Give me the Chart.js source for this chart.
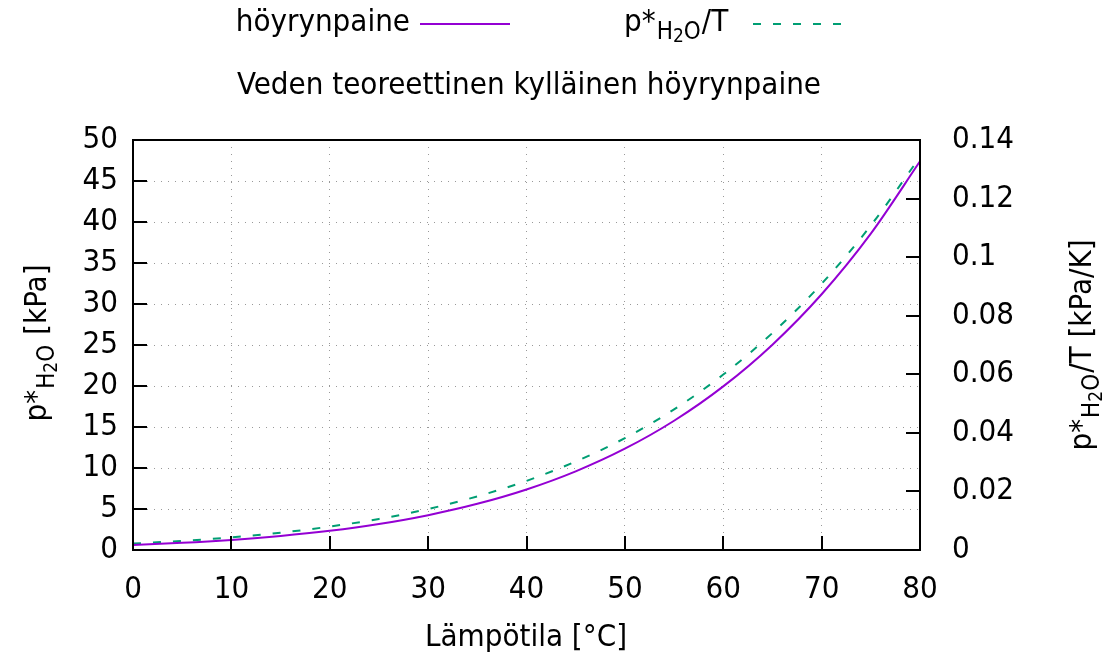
<!DOCTYPE html>
<html>
<head>
<meta charset="utf-8">
<script src="https://cdn.jsdelivr.net/npm/chart.js@4/dist/chart.umd.min.js"></script>
<style>
  html, body { margin: 0; padding: 0; background: #fff; }
  #wrap { width: 1106px; height: 662px; }
</style>
</head>
<body>
<div id="wrap"><canvas id="myChart"></canvas></div>
<script>
// lämpötila [°C]
var temps = [0, 5, 10, 15, 20, 25, 30, 35, 40, 45, 50, 55, 60, 65, 70, 75, 80];
// höyrynpaine [kPa]
var pressure = [0.61, 0.87, 1.23, 1.71, 2.34, 3.17, 4.25, 5.63, 7.38, 9.59, 12.35, 15.76, 19.95, 25.04, 31.19, 38.58, 47.4];
// p*/T [kPa/K]
var pressureT = [0.0022, 0.0031, 0.0043, 0.0059, 0.0080, 0.0106, 0.0140, 0.0183, 0.0236, 0.0302, 0.0382, 0.0480, 0.0599, 0.0741, 0.0909, 0.1108, 0.1342];

var FONT = "'DejaVu Sans Condensed', 'DejaVu Sans', sans-serif";
var FS = 31;
var purple = '#9400d3';
var green = '#009e73';

function pts(xs, ys) {
  return xs.map(function (x, i) { return { x: x, y: ys[i] }; });
}

// lvl 0 = normal, 1 = subscript, 2 = sub-subscript
var SIZES = [FS, 24, 19];
var SHIFT = [0, 10, 14];

function subText(ctx, parts, x, y, align) {
  var w = 0;
  parts.forEach(function (p) {
    ctx.font = SIZES[p.l || 0] + 'px ' + FONT;
    p.w = ctx.measureText(p.t).width + (p.gap || 0);
    w += p.w;
  });
  var cx = align === 'right' ? x - w : (align === 'center' ? x - w / 2 : x);
  parts.forEach(function (p) {
    ctx.font = SIZES[p.l || 0] + 'px ' + FONT;
    ctx.fillText(p.t, cx, y + SHIFT[p.l || 0]);
    cx += p.w;
  });
}

function pLabel(rest) {
  return [{ t: 'p*', gap: 1 }, { t: 'H', l: 1 }, { t: '2', l: 2 }, { t: 'O', l: 1, gap: 1 }, { t: rest }];
}

var frame = {
  id: 'frame',
  afterDatasetsDraw: function (chart) {
    var ctx = chart.ctx, a = chart.chartArea, s = chart.scales;
    ctx.save();
    ctx.strokeStyle = '#000';
    ctx.lineWidth = 2;
    ctx.strokeRect(a.left, a.top, a.right - a.left, a.bottom - a.top);
    ctx.beginPath();
    s.y.ticks.forEach(function (t) {
      var py = Math.round(s.y.getPixelForValue(t.value));
      ctx.moveTo(a.left, py); ctx.lineTo(a.left + 14, py);
    });
    s.y2.ticks.forEach(function (t) {
      var py = Math.round(s.y2.getPixelForValue(t.value));
      ctx.moveTo(a.right, py); ctx.lineTo(a.right - 14, py);
    });
    s.x.ticks.forEach(function (t) {
      var px = Math.round(s.x.getPixelForValue(t.value));
      ctx.moveTo(px, a.bottom); ctx.lineTo(px, a.bottom - 14);
    });
    ctx.stroke();

    // texts
    ctx.fillStyle = '#000';
    ctx.textBaseline = 'middle';
    ctx.font = FS + 'px ' + FONT;
    ctx.textAlign = 'center';
    ctx.fillText('Veden teoreettinen kylläinen höyrynpaine', 529, 86);
    ctx.fillText('Lämpötila [°C]', 526, 638);

    // legend
    ctx.textAlign = 'right';
    ctx.fillText('höyrynpaine', 410, 23);
    ctx.textAlign = 'left';
    subText(ctx, pLabel('/T'), 624, 23, 'left');
    ctx.lineWidth = 2;
    ctx.strokeStyle = purple;
    ctx.beginPath(); ctx.moveTo(420, 24); ctx.lineTo(510, 24); ctx.stroke();
    ctx.strokeStyle = green;
    ctx.setLineDash([8, 12]);
    ctx.beginPath(); ctx.moveTo(753, 24); ctx.lineTo(848, 24); ctx.stroke();
    ctx.setLineDash([]);

    // axis titles
    ctx.save();
    ctx.translate(38, 343);
    ctx.rotate(-Math.PI / 2);
    subText(ctx, pLabel(' [kPa]'), 0, 0, 'center');
    ctx.restore();
    ctx.save();
    ctx.translate(1083, 345);
    ctx.rotate(-Math.PI / 2);
    subText(ctx, pLabel('/T [kPa/K]'), 0, 0, 'center');
    ctx.restore();
    ctx.restore();
  }
};

var tickFont = { family: FONT, size: FS };

var myChart = new Chart('myChart', {
  type: 'line',
  data: {
    datasets: [{
      label: 'höyrynpaine',
      data: pts(temps, pressure),
      yAxisID: 'y',
      borderColor: purple,
      borderWidth: 2,
      pointRadius: 0,
      cubicInterpolationMode: 'monotone'
    }, {
      label: 'p*H2O/T',
      data: pts(temps, pressureT),
      yAxisID: 'y2',
      borderColor: green,
      borderWidth: 2,
      borderDash: [8, 12],
      pointRadius: 0,
      cubicInterpolationMode: 'monotone'
    }]
  },
  options: {
    responsive: true,
    maintainAspectRatio: false,
    animation: false,
    layout: { padding: { top: 140, left: 0, right: 0, bottom: 0 } },
    plugins: { legend: { display: false }, title: { display: false }, tooltip: { enabled: false } },
    scales: {
      x: {
        type: 'linear', min: 0, max: 80,
        afterFit: function (s) { s.height = 112; },
        ticks: { stepSize: 10, font: tickFont, color: '#000', padding: 21, maxRotation: 0 },
        grid: { color: '#999', lineWidth: 1, drawTicks: false },
        border: { display: false, dash: [1, 6] }
      },
      y: {
        position: 'left', min: 0, max: 50,
        afterFit: function (s) { s.width = 133; },
        ticks: { stepSize: 5, font: tickFont, color: '#000', padding: 15 },
        grid: { color: '#999', lineWidth: 1, drawTicks: false },
        border: { display: false, dash: [1, 6] }
      },
      y2: {
        position: 'right', min: 0, max: 0.14,
        afterFit: function (s) { s.width = 186; },
        ticks: { stepSize: 0.02, font: tickFont, color: '#000', padding: 32,
          callback: function (v) { return +v.toFixed(2) + ''; } },
        grid: { display: false, drawTicks: false },
        border: { display: false }
      }
    }
  },
  plugins: [frame]
});
</script>
</body>
</html>
